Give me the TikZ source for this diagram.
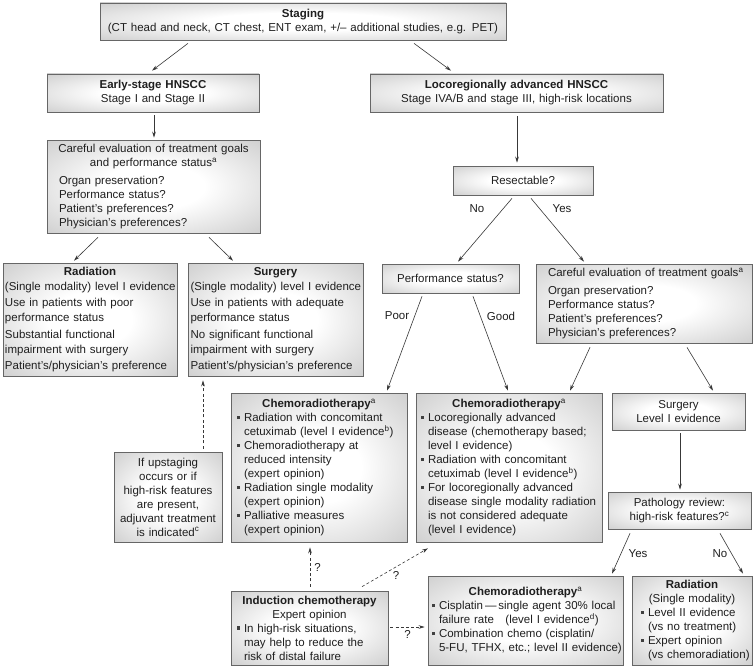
\documentclass[tikz,border=0pt]{standalone}
\usepackage{fontspec}
\setmainfont{Liberation Sans}
\usetikzlibrary{arrows.meta,calc}
\definecolor{boxgray}{gray}{0.70}
\definecolor{edgec}{gray}{0.40}
\definecolor{txt}{gray}{0.12}
\definecolor{arrc}{gray}{0.22}
\pgfdeclareradialshading{boxshade}{\pgfpoint{0bp}{0bp}}{color(0bp)=(white); color(12bp)=(white); color(50bp)=(boxgray); color(75bp)=(boxgray)}
\newcommand\bsq{\textcolor{txt!85}{\rule[0.22em]{0.27em}{0.27em}}}
\newcommand\bitem[1]{\par\hangindent=7pt\hangafter=1\noindent\makebox[7pt][l]{\bsq}#1}
\newcommand\sps[1]{\textsuperscript{#1}}
\newcommand\tl[1]{\mbox{#1}}
\newcommand\fs{\fontsize{11.5}{14}\selectfont}
\newcommand\fsw{\fontsize{11.5}{15}\selectfont}
\tikzset{
  box/.style={draw=edgec, line width=0.7pt, shading=boxshade, text=txt, font=\fs, inner ysep=2pt, align=left},
  arr/.style={draw=arrc, line width=0.6pt, -{Stealth[length=6pt,width=3.6pt]}},
  darr/.style={arr, dash pattern=on 3pt off 2.2pt},
  lbl/.style={text=txt, font=\fs, inner sep=0pt}
}
\begin{document}
\begin{tikzpicture}[x=1pt,y=-1pt]
\useasboundingbox (0,0) rectangle (755,669);
\fill[white] (0,0) rectangle (755,669);

\node[box, minimum height=37pt, inner xsep=5pt, text width=396pt] (staging) at (303,21.5)
  {\centering\textbf{Staging}\\\tl{(CT head and neck, CT chest, ENT exam, +/– additional studies, e.g. PET)}\par};

\node[box, minimum height=38pt, inner xsep=5pt, text width=202pt] (early) at (153,93)
  {\centering\textbf{Early-stage HNSCC}\\Stage I and Stage II\par};

\node[box, minimum height=38pt, inner xsep=5pt, text width=283pt] (loco) at (516.5,93)
  {\centering\textbf{Locoregionally advanced HNSCC}\\\tl{Stage IVA/B and stage III, high-risk locations}\par};

\node[box, minimum height=93pt, inner xsep=3pt, text width=207pt] (carefulL) at (153.5,186.5)
  {{\centering\tl{Careful evaluation of treatment goals}\\\tl{and performance status\sps{a}}\par}\vspace{3.5pt}
   {\leftskip=9pt \tl{Organ preservation?}\\\tl{Performance status?}\\\tl{Patient's preferences?}\\\tl{Physician's preferences?}\par}};

\node[box, minimum height=29pt, inner xsep=5pt, text width=130pt] (resect) at (523,180.5)
  {\centering Resectable?\par};

\node[lbl] (no1) at (477,209) {No};
\node[lbl] (yes1) at (562,209) {Yes};

\node[box, minimum height=29pt, inner xsep=5pt, text width=127pt] (perf) at (450.5,278.5)
  {\centering Performance status?\par};

\node[box, minimum height=79pt, inner xsep=4pt, text width=208pt] (carefulR) at (644,303.5)
  {{\leftskip=8pt \tl{Careful evaluation of treatment goals\sps{a}}\par}\vspace{3.5pt}
   {\leftskip=8pt \tl{Organ preservation?}\\\tl{Performance status?}\\\tl{Patient's preferences?}\\\tl{Physician's preferences?}\par}};

\node[box, font=\fsw, minimum height=113pt, inner xsep=2pt, text width=170pt] (radL) at (90,319.5)
  {{\centering\textbf{Radiation}\par}
   \tl{(Single modality) level I evidence}\par\vspace{1.5pt}
   \tl{Use in patients with poor}\\\tl{performance status}\par\vspace{1.5pt}
   \tl{Substantial functional}\\\tl{impairment with surgery}\par\vspace{1.5pt}
   \tl{Patient's/physician's preference}\par};

\node[box, font=\fsw, minimum height=113pt, inner xsep=2.5pt, text width=170pt] (surgL) at (275.5,319.5)
  {{\centering\textbf{Surgery}\par}
   \tl{(Single modality) level I evidence}\par\vspace{1.5pt}
   \tl{Use in patients with adequate}\\\tl{performance status}\par\vspace{1.5pt}
   \tl{No significant functional}\\\tl{impairment with surgery}\par\vspace{1.5pt}
   \tl{Patient's/physician's preference}\par};

\node[lbl] (poor) at (397,316) {Poor};
\node[lbl] (good) at (501,316) {Good};

\node[box, minimum height=149pt, inner xsep=6pt, text width=164pt] (chemoL) at (319,467.5)
  {{\centering\textbf{Chemoradiotherapy}\sps{a}\par}
   \bitem{\tl{Radiation with concomitant}\newline\tl{cetuximab (level I evidence\sps{b})}}
   \bitem{\tl{Chemoradiotherapy at}\newline\tl{reduced intensity}\newline\tl{(expert opinion)}}
   \bitem{\tl{Radiation single modality}\newline\tl{(expert opinion)}}
   \bitem{\tl{Palliative measures}\newline\tl{(expert opinion)}}\par};

\node[box, minimum height=149pt, inner xsep=5pt, text width=176pt] (chemoM) at (509,467.5)
  {{\centering\textbf{Chemoradiotherapy}\sps{a}\par}
   \bitem{\tl{Locoregionally advanced}\newline\tl{disease (chemotherapy based;}\newline\tl{level I evidence)}}
   \bitem{\tl{Radiation with concomitant}\newline\tl{cetuximab (level I evidence\sps{b})}}
   \bitem{\tl{For locoregionally advanced}\newline\tl{disease single modality radiation}\newline\tl{is not considered adequate}\newline\tl{(level I evidence)}}\par};

\node[box, minimum height=37pt, inner xsep=5pt, text width=123pt] (surgR) at (678.5,411.5)
  {\centering Surgery\\Level I evidence\par};

\node[box, minimum height=37pt, inner xsep=5pt, text width=133pt] (path) at (679.5,510.5)
  {\centering Pathology review:\\\tl{high-risk features?\sps{c}}\par};

\node[lbl] (yes2) at (638,554) {Yes};
\node[lbl] (no2) at (720,554) {No};

\node[box, minimum height=90pt, inner xsep=3pt, text width=102pt] (upstage) at (168,497)
  {\centering If upstaging\\occurs or if\\\tl{high-risk features}\\are present,\\\tl{adjuvant treatment}\\is indicated\sps{c}\par};

\node[box, minimum height=74pt, inner xsep=4pt, text width=149pt] (induct) at (309.5,628)
  {{\centering\tl{\textbf{Induction chemotherapy}}\\Expert opinion\par}
   {\leftskip=2pt\bitem{\tl{In high-risk situations,}\newline\tl{may help to reduce the}\newline\tl{risk of distal failure}}\par}};

\node[box, minimum height=89pt, inner xsep=4pt, text width=187pt] (chemoB) at (525.5,620.5)
  {{\centering\textbf{Chemoradiotherapy}\sps{a}\par}
   \bitem{\tl{Cisplatin\,—\,single agent 30\% local}\newline\tl{failure rate\quad(level I evidence\sps{d})}}
   \bitem{\tl{Combination chemo (cisplatin/}\newline\tl{5-FU, TFHX, etc.; level II evidence)}}\par};

\node[box, minimum height=89pt, inner xsep=3pt, text width=114pt] (radR) at (692,620.5)
  {{\centering\textbf{Radiation}\\(Single modality)\par}
   {\leftskip=6pt\bitem{\tl{Level II evidence}\newline\tl{(vs no treatment)}}
   \bitem{\tl{Expert opinion}\newline\tl{(vs chemoradiation)}}\par}};

% connectors
\draw[arr] ([xshift=-115pt,yshift=-3pt]staging.south) -- ([xshift=-1pt,yshift=3pt]early.north);
\draw[arr] ([xshift=111pt,yshift=-3pt]staging.south) -- ([xshift=-65.5pt,yshift=3pt]loco.north);
\draw[arr] ([xshift=1pt,yshift=-3pt]early.south) -- ([xshift=0.5pt,yshift=2pt]carefulL.north);
\draw[arr] ([xshift=0.5pt,yshift=-4pt]loco.south) -- ([xshift=-6pt,yshift=3pt]resect.north);
\draw[arr] ([xshift=-55.5pt,yshift=-4pt]carefulL.south) -- ([xshift=-16pt,yshift=2pt]radL.north);
\draw[arr] ([xshift=55.5pt,yshift=-4pt]carefulL.south) -- ([xshift=-42.5pt,yshift=2pt]surgL.north);
\draw[arr] ([xshift=-11pt,yshift=-3pt]resect.south) -- ([xshift=7.5pt,yshift=2pt]perf.north);
\draw[arr] ([xshift=8pt,yshift=-3pt]resect.south) -- ([xshift=-60pt,yshift=2pt]carefulR.north);
\draw[arr] ([xshift=-28.5pt,yshift=-3pt]perf.south) -- ([xshift=68pt,yshift=2pt]chemoL.north);
\draw[arr] ([xshift=22.5pt,yshift=-3pt]perf.south) -- ([xshift=-1pt,yshift=2pt]chemoM.north);
\draw[arr] ([xshift=-54pt,yshift=-4pt]carefulR.south) -- ([xshift=61pt,yshift=2pt]chemoM.north);
\draw[arr] ([xshift=43pt,yshift=-4pt]carefulR.south) -- ([xshift=34.5pt,yshift=2pt]surgR.north);
\draw[arr] ([xshift=1.5pt,yshift=-3pt]surgR.south) -- ([xshift=0.5pt,yshift=2pt]path.north);
\draw[arr] ([xshift=-49.5pt,yshift=-4pt]path.south) -- ([xshift=86.5pt,yshift=2pt]chemoB.north);
\draw[arr] ([xshift=40.5pt,yshift=-4pt]path.south) -- ([xshift=51pt,yshift=2pt]radR.north);
\draw[darr] ([xshift=35pt,yshift=3pt]upstage.north) -- ([xshift=-72.5pt,yshift=-4pt]surgL.south);
\draw[darr] ([xshift=0.5pt,yshift=4pt]induct.north) -- ([xshift=-9pt,yshift=-5pt]chemoL.south)
  node[lbl, pos=0.5, anchor=west, xshift=4pt] (q1) {?};
\draw[darr] ([xshift=52.5pt,yshift=4pt]induct.north) -- ([xshift=-81pt,yshift=-6pt]chemoM.south)
  node[lbl, pos=0.5, anchor=north, xshift=1pt, yshift=-4pt] (q2) {?};
\draw[darr] ([xshift=2pt,yshift=1pt]induct.east) -- ([xshift=-3pt,yshift=-6.5pt]chemoB.west)
  node[lbl, pos=0.5, anchor=north, yshift=-3pt] (q3) {?};
\end{tikzpicture}
\end{document}
